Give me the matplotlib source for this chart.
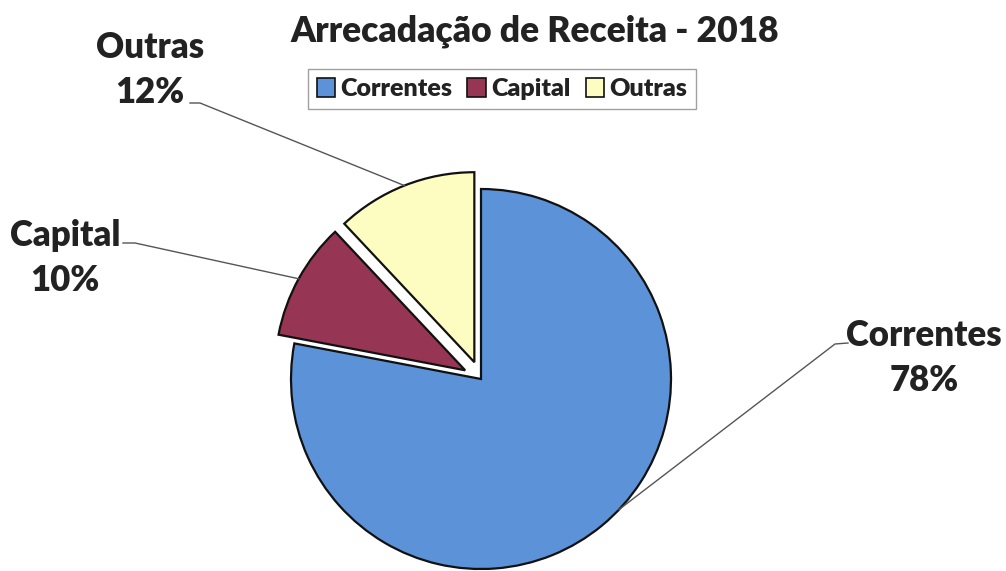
import numpy as np
import matplotlib
matplotlib.use('Agg')
import matplotlib.pyplot as plt
from matplotlib.patches import Patch

plt.rcParams['font.family'] = ['Lato', 'DejaVu Sans']
plt.rcParams['font.weight'] = 'heavy'

categories = ['Correntes', 'Capital', 'Outras']
shares = [78, 10, 12]
colors = ['#5B92D8', '#963654', '#FDFDC2']
exploded = [0, 0.095, 0.095]
title = 'Arrecadação de Receita - 2018'

W, H = 1006, 571
fig = plt.figure(figsize=(W / 100, H / 100), dpi=100)
ax = fig.add_axes([0, 0, 1, 1])
ax.axis('off')

cx, cy, r = 481, 192, 190
wedges, _ = ax.pie(shares, colors=colors, startangle=90, counterclock=False,
                   radius=r, center=(cx, cy), explode=[e * r for e in exploded],
                   wedgeprops=dict(edgecolor='#111111', linewidth=1.6))
ax.set_xlim(0, W)
ax.set_ylim(0, H)
ax.set_aspect('equal')

# label centre, and the short horizontal piece of each leader line
label_pos = [(924, 213), (65, 313), (150, 501)]
leader_start = [(848, 228), (123, 328), (190, 468)]
leader_elbow = [(835, 227), (135, 328), (200, 468)]
anchor_shift = [7, 0, 0]  # degrees the leader anchor moves off the wedge middle

for i, w in enumerate(wedges):
    mid = np.deg2rad((w.theta1 + w.theta2) / 2 + anchor_shift[i])
    wx, wy = w.center
    px, py = wx + w.r * np.cos(mid), wy + w.r * np.sin(mid)
    sx, sy = leader_start[i]
    bx, by = leader_elbow[i]
    ax.plot([sx, bx, px], [sy, by, py], color='#555555', lw=1.0)
    ax.text(label_pos[i][0], label_pos[i][1], f'{categories[i]}\n{shares[i]}%',
            ha='center', va='center', fontsize=25, color='#222222',
            linespacing=1.45)

fig.text(0.532, 0.945, title, ha='center', va='center', fontsize=25.5,
         color='#222222')

handles = [Patch(facecolor=c, edgecolor='#111111', linewidth=1.2) for c in colors]
leg = fig.legend(handles, categories, loc='center', bbox_to_anchor=(0.499, 0.844),
                 ncol=3, fontsize=18, frameon=True, fancybox=False,
                 handlelength=0.75, handleheight=0.75, handletextpad=0.2,
                 columnspacing=0.6, borderpad=0.35)
leg.get_frame().set_edgecolor('#888888')
leg.get_frame().set_linewidth(1.0)
for t in leg.get_texts():
    t.set_color('#222222')

fig.savefig('out.png', dpi=100, facecolor='white')
